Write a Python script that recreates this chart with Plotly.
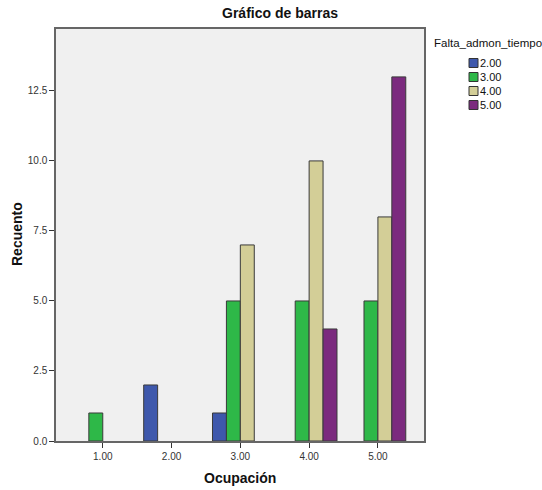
import plotly.graph_objects as go

categories = [1, 2, 3, 4, 5]
tick_labels = ["1.00", "2.00", "3.00", "4.00", "5.00"]
series_names = ["2.00", "3.00", "4.00", "5.00"]
vals_2 = [None, 2, 1, None, None]
vals_3 = [1, None, 5, 5, 5]
vals_4 = [None, None, 7, 10, 8]
vals_5 = [None, None, None, 4, 13]
series_values = [vals_2, vals_3, vals_4, vals_5]
colors = ["#3E58AC", "#2EB848", "#D3CE97", "#7B2A7E"]
y_ticks = [0, 2.5, 5, 7.5, 10, 12.5]
y_tick_labels = ["0.0", "2.5", "5.0", "7.5", "10.0", "12.5"]

W, H = 542, 490
L, R, T, B = 56, 424, 29, 441

fig = go.Figure()
for name, vals, col in zip(series_names, series_values, colors):
    fig.add_trace(go.Bar(x=categories, y=vals, name=name,
                         marker=dict(color=col, line=dict(color="#3a3a3a", width=1)),
                         showlegend=False, hoverinfo="skip"))

font_family = "Liberation Sans, Arial, sans-serif"

def px2paper(x, y):
    return (x - L) / (R - L), (B - y) / (B - T)

shapes = []
annotations = []
# axis titles
ax, ay = px2paper(240, 478)
annotations.append(dict(x=ax, y=ay, xref="paper", yref="paper", text="<b>Ocupación</b>",
                        showarrow=False, xanchor="center", yanchor="middle",
                        font=dict(size=14, color="#111", family=font_family)))
ax, ay = px2paper(17, 234)
annotations.append(dict(x=ax, y=ay, xref="paper", yref="paper", text="<b>Recuento</b>",
                        showarrow=False, xanchor="center", yanchor="middle", textangle=-90,
                        font=dict(size=14, color="#111", family=font_family)))
# manual legend
tx, ty = px2paper(432, 43)
annotations.append(dict(x=tx, y=ty, xref="paper", yref="paper", text="Falta_admon_tiempo",
                        showarrow=False, xanchor="left", yanchor="middle",
                        font=dict(size=11.5, color="#111", family=font_family)))
for i, (name, col) in enumerate(zip(series_names, colors)):
    cy = 63 + 14 * i
    x0, y0 = px2paper(469, cy + 4.5)
    x1, y1 = px2paper(478, cy - 4.5)
    shapes.append(dict(type="rect", xref="paper", yref="paper", x0=x0, y0=y0, x1=x1, y1=y1,
                       fillcolor=col, line=dict(color="#333", width=1)))
    lx, ly = px2paper(478, cy)
    annotations.append(dict(x=lx, y=ly, xref="paper", yref="paper", text=name,
                            showarrow=False, xanchor="left", yanchor="middle",
                            font=dict(size=11, color="#111", family=font_family)))

fig.update_layout(
    width=W, height=H,
    margin=dict(l=L, r=W - R, t=T, b=H - B, autoexpand=False),
    paper_bgcolor="white",
    plot_bgcolor="#F0F0F0",
    barmode="group",
    bargap=0.19,
    bargroupgap=0,
    showlegend=False,
    font=dict(family=font_family, color="#222"),
    title=dict(text="<b>Gráfico de barras</b>", x=280 / W, xref="container", xanchor="center",
               y=1 - 13 / H, yref="container", yanchor="middle", automargin=False,
               font=dict(size=14, color="#111", family=font_family)),
    xaxis=dict(range=[0.32, 5.67], tickvals=categories, ticktext=tick_labels,
               ticks="outside", ticklen=5, tickcolor="#333", showgrid=False, zeroline=False,
               showline=True, linecolor="#666", linewidth=1.5, mirror=True, automargin=False,
               tickfont=dict(size=10, color="#333")),
    yaxis=dict(range=[0, 14.71], tickvals=y_ticks, ticktext=y_tick_labels,
               ticks="outside", ticklen=5, tickcolor="#333", showgrid=False, zeroline=False,
               showline=True, linecolor="#666", linewidth=1.5, mirror=True, automargin=False,
               tickfont=dict(size=10, color="#333")),
    shapes=shapes,
    annotations=annotations,
)

fig.write_html("out.html", config={"displayModeBar": False},
               post_script="document.body.style.margin='0';document.body.style.overflow='hidden';")
